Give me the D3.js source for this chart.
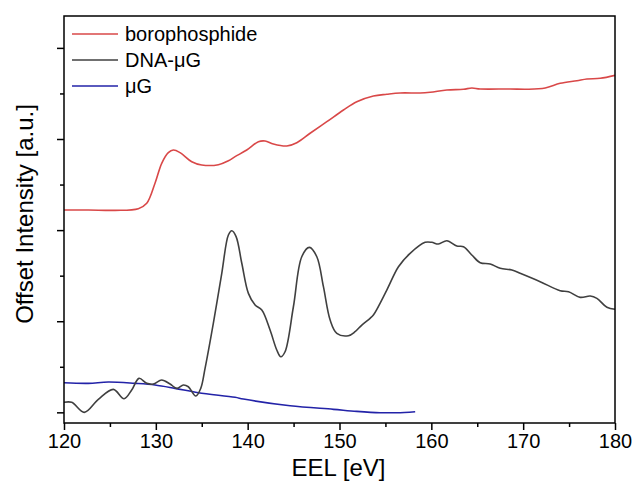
<!DOCTYPE html>
<html>
<head>
<meta charset="utf-8">
<script src="https://cdn.jsdelivr.net/npm/d3@7"></script>
<style>
  html, body { margin: 0; padding: 0; background: #fff; }
  svg { display: block; }
  text { font-family: Arial, "Liberation Sans", sans-serif; fill: #000; }
</style>
</head>
<body>
<svg id="chart" width="634" height="495"></svg>
<script>
// EEL spectra, energy loss in eV vs. offset intensity (arbitrary units)
const borophosphide = [
  [120.0, 2.221], [122.65, 2.221], [125.56, 2.217], [128.09, 2.235], [129.01, 2.294],
  [129.91, 2.514], [130.64, 2.733], [131.36, 2.850], [131.91, 2.879], [132.64, 2.850],
  [133.91, 2.751], [135.00, 2.715], [136.81, 2.718], [137.90, 2.762], [138.63, 2.806],
  [139.90, 2.879], [141.17, 2.970], [141.90, 2.978], [142.80, 2.945], [144.26, 2.923],
  [145.35, 2.959], [146.80, 3.063], [148.62, 3.190], [150.43, 3.318], [151.88, 3.409],
  [153.69, 3.472], [155.15, 3.491], [156.60, 3.505], [158.78, 3.505], [159.87, 3.513],
  [161.69, 3.538], [163.50, 3.546], [164.41, 3.560], [165.32, 3.549], [168.58, 3.549],
  [170.40, 3.546], [172.40, 3.560], [174.03, 3.611], [175.85, 3.640], [176.94, 3.659],
  [178.39, 3.666], [180.0, 3.699]
];

const dnaMuG = [
  [120.0, 0.110], [120.84, 0.110], [122.21, 0.000], [123.74, 0.143], [125.37, 0.252],
  [126.54, 0.149], [127.37, 0.245], [128.17, 0.373], [129.01, 0.318], [129.73, 0.311],
  [130.64, 0.355], [131.55, 0.311], [132.28, 0.263], [133.00, 0.300], [133.54, 0.281],
  [134.35, 0.179], [134.89, 0.263], [135.36, 0.483], [136.26, 0.977], [137.18, 1.526],
  [137.90, 1.946], [138.27, 1.993], [138.74, 1.928], [139.36, 1.636], [140.08, 1.306],
  [140.81, 1.178], [141.54, 1.123], [142.44, 0.903], [143.17, 0.684], [143.61, 0.610],
  [144.07, 0.665], [144.98, 1.159], [145.89, 1.708], [146.72, 1.811], [147.53, 1.708],
  [148.25, 1.379], [148.98, 1.013], [149.71, 0.867], [150.97, 0.841], [151.70, 0.885],
  [152.43, 0.958], [153.33, 1.032], [153.69, 1.068], [155.15, 1.342], [156.42, 1.598],
  [157.69, 1.745], [159.32, 1.866], [160.05, 1.866], [160.77, 1.847], [161.69, 1.884],
  [162.78, 1.825], [163.50, 1.818], [164.41, 1.727], [165.32, 1.642], [166.41, 1.628],
  [167.50, 1.581], [168.77, 1.562], [169.67, 1.526], [171.85, 1.434], [174.03, 1.335],
  [174.94, 1.324], [176.21, 1.262], [177.30, 1.277], [178.03, 1.251], [179.12, 1.153],
  [180.0, 1.131]
];

const muG = [
  [120.0, 0.325], [122.65, 0.318], [124.83, 0.333], [127.73, 0.318], [129.91, 0.300],
  [132.09, 0.263], [134.63, 0.215], [138.63, 0.165], [139.53, 0.146], [144.62, 0.072],
  [149.34, 0.033], [151.88, 0.011], [154.42, -0.004], [156.24, -0.004], [158.24, 0.007]
];

const seriesNames = ["borophosphide", "DNA-\u03bcG", "\u03bcG"];
const seriesColors = ["#d94848", "#404040", "#2323a8"];
const seriesData = [borophosphide, dnaMuG, muG];

const xTicks = [120, 130, 140, 150, 160, 170, 180];
const xMinorTicks = [125, 135, 145, 155, 165, 175];
const yTicks = [0, 1, 2, 3, 4];
const yMinorTicks = [0.5, 1.5, 2.5, 3.5];

const xTitle = "EEL [eV]";
const yTitle = "Offset Intensity [a.u.]";

// layout
const margin = { left: 64, right: 19, top: 16, bottom: 72 };
const W = 634, H = 495;
const plotW = W - margin.left - margin.right;
const plotH = H - margin.top - margin.bottom;

const svg = d3.select("#chart");
const g = svg.append("g").attr("transform", `translate(${margin.left},${margin.top})`);

const x = d3.scaleLinear().domain([120, 180]).range([0, plotW]);
const y = d3.scaleLinear().domain([-0.117, 4.35]).range([plotH, 0]);

// spectra
const line = d3.line()
  .x(d => x(d[0]))
  .y(d => y(d[1]))
  .curve(d3.curveCatmullRom.alpha(0.5));

const clipId = "plot-clip";
svg.append("defs").append("clipPath").attr("id", clipId)
  .append("rect").attr("width", plotW).attr("height", plotH);

const curves = g.append("g").attr("clip-path", `url(#${clipId})`);
// draw order: blue, red, then gray on top
[2, 0, 1].forEach(i => {
  curves.append("path")
    .datum(seriesData[i])
    .attr("fill", "none")
    .attr("stroke", seriesColors[i])
    .attr("stroke-width", 1.6)
    .attr("stroke-linejoin", "round")
    .attr("d", line);
});

// axes
const xAxis = g.append("g").attr("transform", `translate(0,${plotH})`)
  .call(d3.axisBottom(x).tickValues(xTicks).tickFormat(d3.format("d")).tickSize(7).tickPadding(4));
const xMinor = g.append("g").attr("transform", `translate(0,${plotH})`)
  .call(d3.axisBottom(x).tickValues(xMinorTicks).tickFormat("").tickSize(4));
const yAxis = g.append("g")
  .call(d3.axisLeft(y).tickValues(yTicks).tickFormat("").tickSize(7));
const yMinor = g.append("g")
  .call(d3.axisLeft(y).tickValues(yMinorTicks).tickFormat("").tickSize(4));

[xAxis, xMinor, yAxis, yMinor].forEach(a => {
  a.select(".domain").remove();
  a.selectAll(".tick line").attr("stroke", "#000").attr("stroke-width", 1.5);
});
xAxis.selectAll(".tick text")
  .attr("font-size", 20)
  .attr("font-family", "Arial, 'Liberation Sans', sans-serif")
  .attr("fill", "#000");

// frame
g.append("rect")
  .attr("width", plotW).attr("height", plotH)
  .attr("fill", "none").attr("stroke", "#000").attr("stroke-width", 1.5);

// titles
svg.append("text")
  .attr("x", margin.left + plotW / 2 - 1)
  .attr("y", 476)
  .attr("text-anchor", "middle")
  .attr("font-size", 24)
  .text(xTitle);

svg.append("text")
  .attr("transform", `translate(33,${margin.top + 198}) rotate(-90)`)
  .attr("text-anchor", "middle")
  .attr("font-size", 24)
  .text(yTitle);

// legend
const legend = g.append("g").attr("transform", "translate(8,18)");
seriesNames.forEach((name, i) => {
  const row = legend.append("g").attr("transform", `translate(0,${i * 26})`);
  row.append("line")
    .attr("x1", 0).attr("x2", 46)
    .attr("stroke", seriesColors[i]).attr("stroke-width", 1.5);
  row.append("text")
    .attr("x", 53).attr("y", 7)
    .attr("font-size", 20)
    .text(name);
});
</script>
</body>
</html>
